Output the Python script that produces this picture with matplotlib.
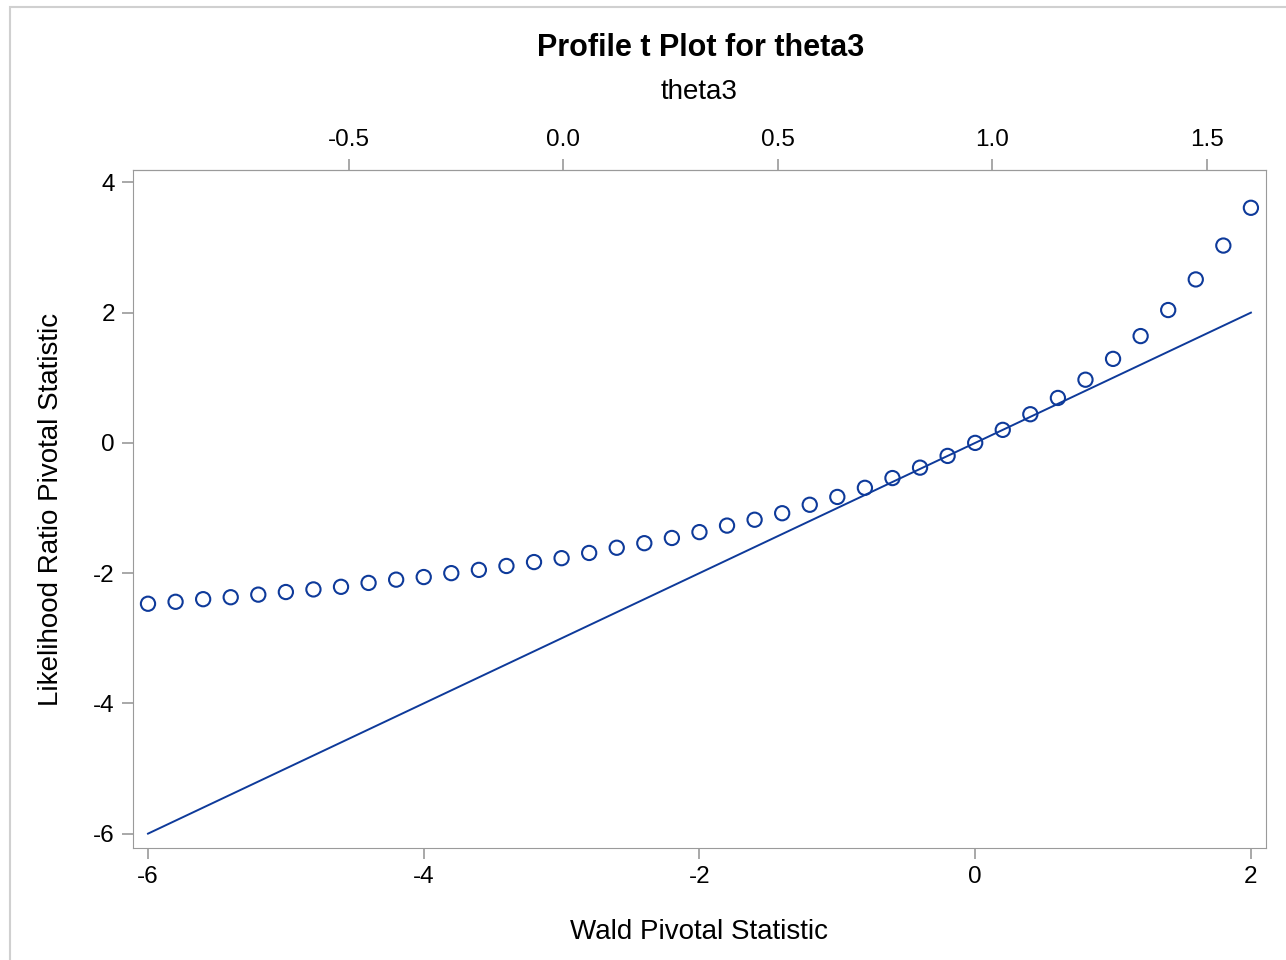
import numpy as np
import matplotlib.pyplot as plt
from matplotlib.patches import Rectangle

plt.rcParams['font.family'] = ['Liberation Sans', 'DejaVu Sans']
plt.rcParams['axes.unicode_minus'] = False

# Wald pivotal statistic (x) and likelihood ratio pivotal statistic (y)
wald = [-6.0, -5.8, -5.6, -5.4, -5.2, -5.0, -4.8, -4.6, -4.4, -4.2,
        -4.0, -3.8, -3.6, -3.4, -3.2, -3.0, -2.8, -2.6, -2.4, -2.2,
        -2.0, -1.8, -1.6, -1.4, -1.2, -1.0, -0.8, -0.6, -0.4, -0.2,
        0.0, 0.2, 0.4, 0.6, 0.8, 1.0, 1.2, 1.4, 1.6, 1.8, 2.0]
lr = [-2.47, -2.44, -2.40, -2.37, -2.33, -2.29, -2.25, -2.21, -2.15, -2.10,
      -2.06, -2.00, -1.95, -1.89, -1.83, -1.77, -1.69, -1.61, -1.54, -1.46,
      -1.37, -1.27, -1.18, -1.08, -0.95, -0.83, -0.69, -0.54, -0.38, -0.20,
      0.0, 0.20, 0.44, 0.69, 0.97, 1.29, 1.64, 2.04, 2.51, 3.03, 3.61]
ref_line = [-6.0, 2.0]
theta_ticks = [-0.5, 0.0, 0.5, 1.0, 1.5]

blue = '#0E3A9A'
grey = '#9A9A9A'

fig = plt.figure(figsize=(12.86, 9.6), dpi=100)
fig.patches.append(Rectangle((0.008, -0.01), 1.0, 1.003, transform=fig.transFigure,
                             fill=False, edgecolor='#D0D0D0', linewidth=1.5))
ax = fig.add_axes([0.1034, 0.1167, 0.881, 0.7062])

ax.plot(ref_line, ref_line, color=blue, linewidth=1.4)
ax.scatter(wald, lr, s=105, facecolors='none', edgecolors=blue, linewidths=1.5, zorder=3)

ax.set_xlim(-6.109, 2.109)
ax.set_ylim(-6.22, 4.19)
ax.set_xticks([-6, -4, -2, 0, 2])
ax.set_yticks([-6, -4, -2, 0, 2, 4])
ax.set_xlabel('Wald Pivotal Statistic', fontsize=20, labelpad=22)
ax.set_ylabel('Likelihood Ratio Pivotal Statistic', fontsize=20, labelpad=21)

for sp in ax.spines.values():
    sp.set_color(grey)
ax.tick_params(colors=grey, labelcolor='black', labelsize=17.5, length=8, width=1.2, pad=5)

# top axis: theta3, linear in the Wald statistic
def w2t(w):
    return 0.960 + 0.3214 * w

def t2w(t):
    return (t - 0.960) / 0.3214

top = ax.secondary_xaxis('top', functions=(w2t, t2w))
top.set_xticks(theta_ticks)
top.set_xticklabels(['%.1f' % t for t in theta_ticks])
top.tick_params(colors=grey, labelcolor='black', labelsize=17.5, length=8, width=1.2, pad=6)
top.spines['top'].set_color(grey)
top.set_xlabel('theta3', fontsize=20, labelpad=21)

fig.text(0.545, 0.950, 'Profile t Plot for theta3', ha='center', va='center',
         fontsize=22, fontweight='bold')

fig.savefig('out.png', dpi=100)
